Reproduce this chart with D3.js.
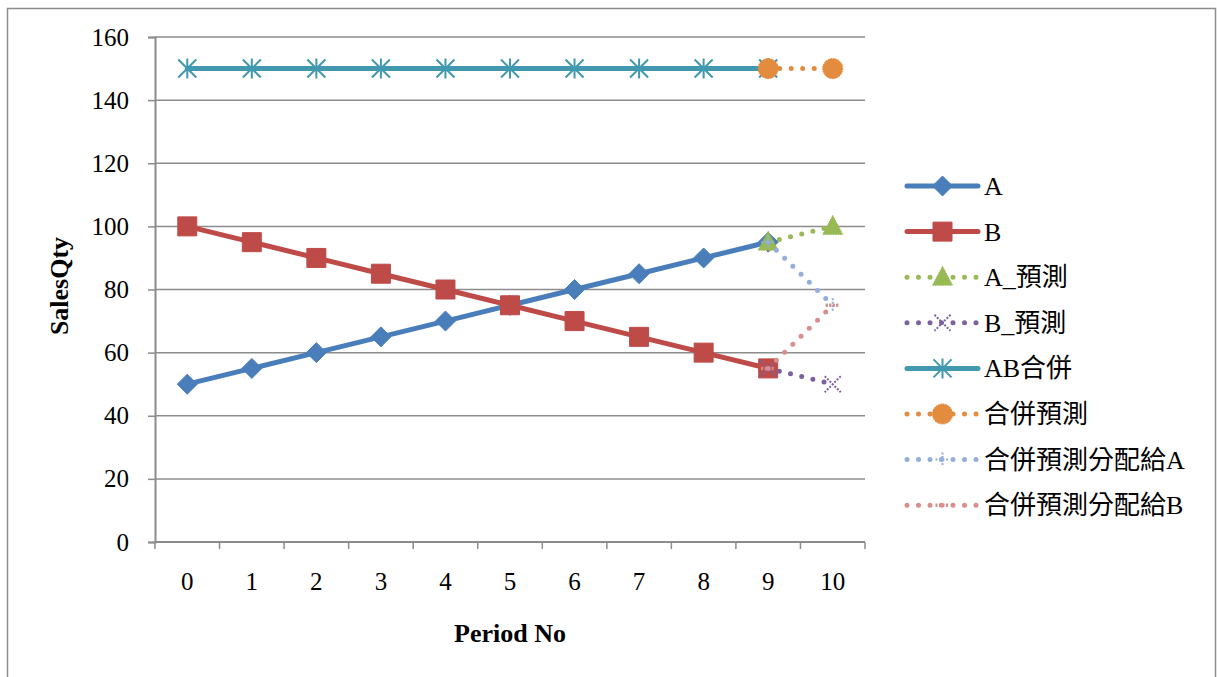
<!DOCTYPE html>
<html>
  <head>
    <meta charset="utf-8">
    <title>SalesQty</title>
    <style>
      body { margin: 0; background: #fff; }
      svg text { font-family: "Liberation Serif", "Noto Sans CJK TC", serif; fill: #000; }
    </style>
  </head>
  <body>
    <div id="chart"></div>
    <script src="https://cdn.jsdelivr.net/npm/d3@7"></script>
    <script>
    // data
    var periods = [0, 1, 2, 3, 4, 5, 6, 7, 8, 9, 10];
    var salesA = [50, 55, 60, 65, 70, 75, 80, 85, 90, 95, null];
    var salesB = [100, 95, 90, 85, 80, 75, 70, 65, 60, 55, null];
    var forecastA = [null, null, null, null, null, null, null, null, null, 95, 100];
    var forecastB = [null, null, null, null, null, null, null, null, null, 55, 50];
    var mergedAB = [150, 150, 150, 150, 150, 150, 150, 150, 150, 150, null];
    var mergedForecast = [null, null, null, null, null, null, null, null, null, 150, 150];
    var allocA = [null, null, null, null, null, null, null, null, null, 95, 75];
    var allocB = [null, null, null, null, null, null, null, null, null, 55, 75];
    var yTicks = [0, 20, 40, 60, 80, 100, 120, 140, 160];
    var seriesNames = ["A", "B", "A_預測", "B_預測", "AB合併", "合併預測", "合併預測分配給A", "合併預測分配給B"];

    var series = [
      {name: seriesNames[0], values: salesA, color: "#4A7EBB", dotted: false, marker: "diamond"},
      {name: seriesNames[1], values: salesB, color: "#BE4B48", dotted: false, marker: "square"},
      {name: seriesNames[2], values: forecastA, color: "#98B954", dotted: true, marker: "triangle"},
      {name: seriesNames[3], values: forecastB, color: "#7D60A0", dotted: true, marker: "x"},
      {name: seriesNames[4], values: mergedAB, color: "#4198AF", dotted: false, marker: "star"},
      {name: seriesNames[5], values: mergedForecast, color: "#E38B3E", dotted: true, marker: "circle"},
      {name: seriesNames[6], values: allocA, color: "#93AEDB", dotted: true, marker: "plus"},
      {name: seriesNames[7], values: allocB, color: "#D98D8C", dotted: true, marker: "dash"}
    ];

    var W = 1217, H = 677;
    var FONT = '"Liberation Serif", "Noto Sans CJK TC", serif';
    var svg = d3.select("#chart").append("svg").attr("width", W).attr("height", H);

    // outer frame
    svg.append("rect").attr("x", 7.5).attr("y", 8.5).attr("width", 1208).attr("height", 680)
      .attr("fill", "none").attr("stroke", "#8c8c8c").attr("stroke-width", 1.5);

    var x = d3.scaleBand().domain(periods).range([155, 865]);
    var y = d3.scaleLinear().domain([0, 160]).range([542, 37]);
    var cx = function(i) { return x(periods[i]) + x.bandwidth() / 2; };

    // gridlines
    svg.append("g").selectAll("line").data(yTicks.filter(function(d) { return d > 0; }))
      .join("line")
      .attr("x1", 155).attr("x2", 865)
      .attr("y1", function(d) { return y(d); }).attr("y2", function(d) { return y(d); })
      .attr("stroke", "#8c8c8c").attr("stroke-width", 1.5);

    // y axis
    var yAxis = svg.append("g").attr("transform", "translate(155,0)")
      .call(d3.axisLeft(y).tickValues(yTicks).tickSize(7).tickPadding(19));
    yAxis.attr("font-family", null);
    yAxis.select(".domain").attr("stroke", "#8c8c8c").attr("stroke-width", 2);
    yAxis.selectAll(".tick line").attr("stroke", "#8c8c8c").attr("stroke-width", 1.5);
    yAxis.selectAll(".tick text").style("font-size", "25px").style("font-family", FONT).attr("fill", "#000");

    // x axis (labels centred, ticks on band edges)
    var xAxis = svg.append("g").attr("transform", "translate(0,542)")
      .call(d3.axisBottom(x).tickSize(0).tickPadding(30).tickSizeOuter(0));
    xAxis.attr("font-family", null);
    xAxis.select(".domain").remove();
    xAxis.selectAll(".tick text").style("font-size", "25px").style("font-family", FONT).attr("fill", "#000");
    svg.append("line").attr("x1", 155).attr("x2", 865).attr("y1", 542).attr("y2", 542)
      .attr("stroke", "#8c8c8c").attr("stroke-width", 2);
    svg.append("g").selectAll("line").data(periods.concat([null]))
      .join("line")
      .attr("x1", function(d, i) { return x.range()[0] + i * x.step(); })
      .attr("x2", function(d, i) { return x.range()[0] + i * x.step(); })
      .attr("y1", 542).attr("y2", 549)
      .attr("stroke", "#8c8c8c").attr("stroke-width", 1.5);

    // axis titles
    svg.append("text").attr("transform", "translate(68,286) rotate(-90)")
      .attr("text-anchor", "middle").style("font-size", "26px").style("font-weight", "bold")
      .text("SalesQty");
    svg.append("text").attr("x", 510).attr("y", 642)
      .attr("text-anchor", "middle").style("font-size", "26px").style("font-weight", "bold")
      .text("Period No");

    function markerPath(type) {
      switch (type) {
        case "diamond": return "M0,-10L10,0L0,10L-10,0Z";
        case "square": return "M-9.5,-9.5H9.5V9.5H-9.5Z";
        case "triangle": return "M0,-11L10,8L-10,8Z";
        case "x": return "M-8,-8L8,8M8,-8L-8,8";
        case "star": return "M-9,-9L9,9M9,-9L-9,9M0,-10V10";
        case "circle": return d3.symbol(d3.symbolCircle, 320)();
        case "plus": return "M-7,0H7M0,-7V7";
        case "dash": return "M-7,0H7";
      }
    }
    var openMarkers = {x: 1, star: 1, plus: 1, dash: 1};

    function styleLine(sel, s) {
      sel.attr("fill", "none").attr("stroke", s.color)
        .attr("stroke-width", 5)
        .attr("stroke-linecap", "round").attr("stroke-linejoin", "round")
        .attr("stroke-dasharray", s.dotted ? "0,11.5" : null);
    }
    function styleMarker(sel, s) {
      if (openMarkers[s.marker]) {
        sel.attr("fill", "none").attr("stroke", s.color)
          .attr("stroke-width", s.marker === "dash" ? 3.5 : 2)
          .attr("stroke-dasharray", s.dotted ? "2,1.5" : null);
      } else {
        sel.attr("fill", s.color).attr("stroke", s.color).attr("stroke-width", 1)
          .attr("stroke-dasharray", s.dotted ? "1.5,1" : null);
      }
    }

    var line = d3.line()
      .defined(function(d) { return d != null; })
      .x(function(d, i) { return cx(i); })
      .y(function(d) { return y(d); });

    var plot = svg.append("g");
    series.forEach(function(s) {
      var g = plot.append("g");
      g.append("path").attr("d", line(s.values)).call(styleLine, s);
      g.selectAll("path.mk").data(s.values.map(function(v, i) { return {v: v, i: i}; })
          .filter(function(d) { return d.v != null; }))
        .join("path").attr("class", "mk")
        .attr("transform", function(d) { return "translate(" + cx(d.i) + "," + y(d.v) + ")"; })
        .attr("d", markerPath(s.marker))
        .call(styleMarker, s);
    });

    // legend
    var legend = svg.append("g").attr("transform", "translate(907,186)");
    series.forEach(function(s, i) {
      var row = legend.append("g").attr("transform", "translate(0," + (i * 45.6) + ")");
      row.append("path").attr("d", "M0,0H71").call(styleLine, s);
      row.append("path").attr("transform", "translate(35.5,0)")
        .attr("d", markerPath(s.marker)).call(styleMarker, s);
      row.append("text").attr("x", 77).attr("y", 9).style("font-size", "26px").text(s.name);
    });
    </script>
  </body>
</html>
